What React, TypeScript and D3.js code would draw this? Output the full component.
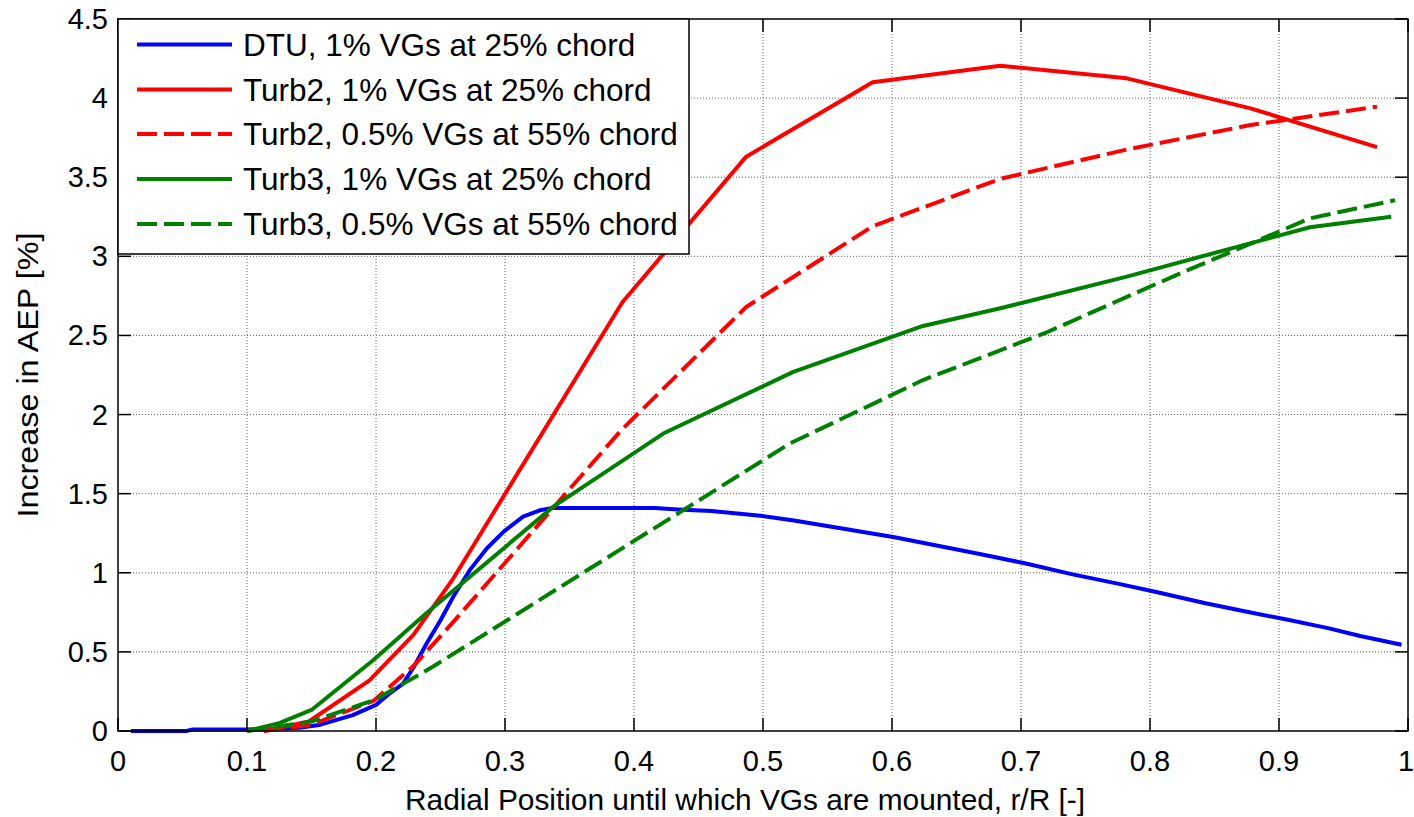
import React from "react";
import * as d3 from "d3";

// ---- data ----
const dtuR = [0.01, 0.053, 0.058, 0.1, 0.12, 0.141, 0.157, 0.182, 0.2, 0.211, 0.221, 0.229, 0.239, 0.25, 0.26, 0.273, 0.286, 0.299, 0.314, 0.327, 0.337, 0.416, 0.434, 0.46, 0.498, 0.524, 0.559, 0.602, 0.667, 0.703, 0.74, 0.774, 0.804, 0.843, 0.877, 0.905, 0.938, 0.963, 0.995];
const dtuV = [0, 0, 0.01, 0.01, 0.012, 0.02, 0.04, 0.1, 0.165, 0.24, 0.3, 0.4, 0.55, 0.7, 0.85, 1.02, 1.155, 1.26, 1.355, 1.395, 1.41, 1.41, 1.4, 1.39, 1.36, 1.33, 1.283, 1.224, 1.12, 1.06, 0.99, 0.933, 0.88, 0.807, 0.75, 0.706, 0.65, 0.6, 0.545];

const turb2R = [0.113, 0.148, 0.195, 0.229, 0.26, 0.391, 0.487, 0.585, 0.684, 0.782, 0.878, 0.976];
const turb2V = [0, 0.06, 0.32, 0.607, 0.965, 2.71, 3.63, 4.1, 4.205, 4.125, 3.935, 3.69];

const turb2bR = [0.113, 0.15, 0.198, 0.229, 0.26, 0.39, 0.487, 0.585, 0.684, 0.782, 0.878, 0.976];
const turb2bV = [0, 0.04, 0.19, 0.41, 0.69, 1.9, 2.68, 3.19, 3.49, 3.675, 3.83, 3.946];

const turb3R = [0.1, 0.125, 0.15, 0.198, 0.239, 0.3375, 0.4227, 0.5235, 0.624, 0.684, 0.782, 0.924, 0.987];
const turb3V = [0, 0.05, 0.133, 0.449, 0.744, 1.418, 1.88, 2.27, 2.56, 2.672, 2.872, 3.184, 3.25];

const turb3bR = [0.1, 0.15, 0.2, 0.244, 0.521, 0.624, 0.72, 0.82, 0.924, 0.99];
const turb3bV = [0, 0.06, 0.2, 0.406, 1.818, 2.218, 2.52, 2.88, 3.24, 3.355];

const xTicks = [0, 0.1, 0.2, 0.3, 0.4, 0.5, 0.6, 0.7, 0.8, 0.9, 1];
const xTickLabels = ["0", "0.1", "0.2", "0.3", "0.4", "0.5", "0.6", "0.7", "0.8", "0.9", "1"];
const yTicks = [0, 0.5, 1, 1.5, 2, 2.5, 3, 3.5, 4, 4.5];
const yTickLabels = ["0", "0.5", "1", "1.5", "2", "2.5", "3", "3.5", "4", "4.5"];

const seriesNames = [
  "DTU, 1% VGs at 25% chord",
  "Turb2, 1% VGs at 25% chord",
  "Turb2, 0.5% VGs at 55% chord",
  "Turb3, 1% VGs at 25% chord",
  "Turb3, 0.5% VGs at 55% chord",
];
const seriesColors = ["#0000ff", "#ff0000", "#ff0000", "#008000", "#008000"];
const seriesDashed = [false, false, true, false, true];
const seriesR = [dtuR, turb2R, turb2bR, turb3R, turb3bR];
const seriesV = [dtuV, turb2V, turb2bV, turb3V, turb3bV];

const xLabel = "Radial Position until which VGs are mounted, r/R [-]";
const yLabel = "Increase in AEP [%]";

export default function App() {
  const W = 1414, H = 817;
  const left = 118, right = 1408, top = 19, bottom = 731;
  const x = d3.scaleLinear().domain([0, 1]).range([left, right]);
  const y = d3.scaleLinear().domain([0, 4.5]).range([bottom, top]);
  const line = d3.line<[number, number]>().x(d => x(d[0])).y(d => y(d[1]));
  const font = "Arial, 'Liberation Sans', Helvetica, sans-serif";
  const tickLen = 13;
  const dash = "20 7";

  const legX = left, legY = top, legW = 689 - left, legH = 254 - top;
  const rowY = [44.5, 89.5, 134, 179, 224];

  return (
    <svg width={W} height={H} style={{ position: "absolute", left: 0, top: 0, background: "#fff" }} fontFamily={font}>
      <rect x={0} y={0} width={W} height={H} fill="#fff" />
      {/* grid */}
      <g stroke="#222" strokeWidth={1} strokeDasharray="1 2" opacity={0.7}>
        {xTicks.slice(1, -1).map((t, i) => (
          <line key={"gx" + i} x1={x(t)} x2={x(t)} y1={top} y2={bottom} />
        ))}
        {yTicks.slice(1, -1).map((t, i) => (
          <line key={"gy" + i} x1={left} x2={right} y1={y(t)} y2={y(t)} />
        ))}
      </g>
      {/* series */}
      <g fill="none" strokeWidth={4} strokeLinejoin="round">
        {seriesR.map((rs, i) => (
          <path
            key={"s" + i}
            d={line(rs.map((r, j) => [r, seriesV[i][j]] as [number, number])) || ""}
            stroke={seriesColors[i]}
            strokeDasharray={seriesDashed[i] ? dash : undefined}
          />
        ))}
      </g>
      {/* ticks */}
      <g stroke="#000" strokeWidth={1.5}>
        {xTicks.map((t, i) => (
          <g key={"xt" + i}>
            <line x1={x(t)} x2={x(t)} y1={bottom} y2={bottom - tickLen} />
            <line x1={x(t)} x2={x(t)} y1={top} y2={top + tickLen} />
          </g>
        ))}
        {yTicks.map((t, i) => (
          <g key={"yt" + i}>
            <line x1={left} x2={left + tickLen} y1={y(t)} y2={y(t)} />
            <line x1={right} x2={right - tickLen} y1={y(t)} y2={y(t)} />
          </g>
        ))}
      </g>
      <rect x={left} y={top} width={right - left} height={bottom - top} fill="none" stroke="#000" strokeWidth={1.5} />
      {/* tick labels */}
      <g fontSize={29} fill="#000">
        {xTicks.map((t, i) => (
          <text key={"xl" + i} x={i === xTicks.length - 1 ? x(t) - 2 : x(t)} y={771} textAnchor="middle">{xTickLabels[i]}</text>
        ))}
        {yTicks.map((t, i) => (
          <text key={"yl" + i} x={108} y={y(t)} textAnchor="end" dominantBaseline="central">{yTickLabels[i]}</text>
        ))}
      </g>
      {/* axis labels */}
      <text x={745} y={810} textAnchor="middle" fontSize={30} fill="#000" textLength={680} lengthAdjust="spacingAndGlyphs">{xLabel}</text>
      <text transform={`translate(38,375) rotate(-90)`} textAnchor="middle" fontSize={29} fill="#000" textLength={285} lengthAdjust="spacingAndGlyphs">{yLabel}</text>
      {/* legend */}
      <rect x={legX} y={legY} width={legW} height={legH} fill="#fff" stroke="#000" strokeWidth={1.5} />
      {seriesNames.map((n, i) => (
        <g key={"lg" + i}>
          <line x1={137} x2={232} y1={rowY[i]} y2={rowY[i]} stroke={seriesColors[i]} strokeWidth={4}
            strokeDasharray={seriesDashed[i] ? dash : undefined} />
          <text x={243} y={rowY[i]} dominantBaseline="central" fontSize={31.5} fill="#000">{n}</text>
        </g>
      ))}
    </svg>
  );
}
